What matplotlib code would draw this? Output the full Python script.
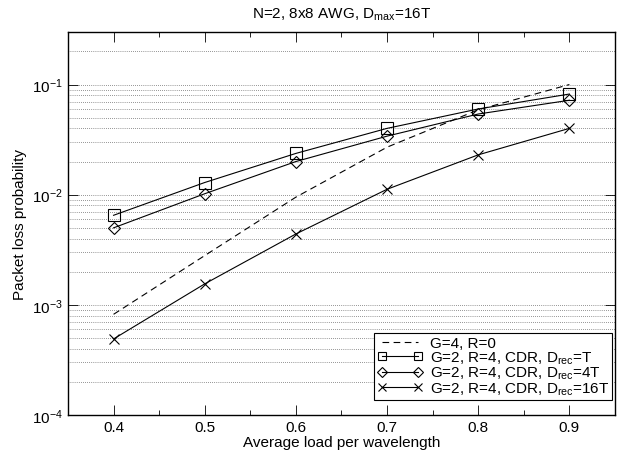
import matplotlib
matplotlib.use('Agg')
import matplotlib.pyplot as plt
from matplotlib.ticker import LogLocator, MultipleLocator, NullFormatter

plt.rcParams['font.family'] = ['Liberation Sans', 'DejaVu Sans']
plt.rcParams['mathtext.fontset'] = 'custom'
plt.rcParams['mathtext.rm'] = 'Liberation Sans'
plt.rcParams['mathtext.it'] = 'Liberation Sans'

carga = [0.4, 0.5, 0.6, 0.7, 0.8, 0.9]

g4_r0 = [8.2e-4, 2.8e-3, 9.5e-3, 2.7e-2, 5.9e-2, 1.0e-1]
drec_t = [6.5e-3, 1.29e-2, 2.37e-2, 4.0e-2, 6.0e-2, 8.2e-2]
drec_4t = [5.0e-3, 1.02e-2, 2.0e-2, 3.4e-2, 5.4e-2, 7.2e-2]
drec_16t = [4.9e-4, 1.55e-3, 4.4e-3, 1.12e-2, 2.3e-2, 4.0e-2]

etiquetas = ['G=4, R=0',
             'G=2, R=4, CDR, D$_{\\mathrm{rec}}$=T',
             'G=2, R=4, CDR, D$_{\\mathrm{rec}}$=4T',
             'G=2, R=4, CDR, D$_{\\mathrm{rec}}$=16T']

fig = plt.figure(figsize=(6.26, 4.60), dpi=100)
ax = fig.add_axes([0.1086, 0.0957, 0.8738, 0.8326])

ax.plot(carga, g4_r0, color='black', linestyle=(0, (6, 4)), linewidth=0.8, label=etiquetas[0])
ax.plot(carga, drec_t, color='black', marker='s', markersize=8, markerfacecolor='none',
        markeredgewidth=0.8, linewidth=0.8, label=etiquetas[1])
ax.plot(carga, drec_4t, color='black', marker='D', markersize=6.5, markerfacecolor='none',
        markeredgewidth=0.8, linewidth=0.8, label=etiquetas[2])
ax.plot(carga, drec_16t, color='black', marker='x', markersize=7,
        markeredgewidth=0.8, linewidth=0.8, label=etiquetas[3])

ax.set_yscale('log')
ax.set_ylim(1e-4, 0.3)
ax.set_xlim(0.35, 0.95)
ax.xaxis.set_major_locator(MultipleLocator(0.1))
ax.xaxis.set_minor_locator(MultipleLocator(0.05))
ax.yaxis.set_major_locator(LogLocator(base=10, numticks=10))
ax.yaxis.set_minor_locator(LogLocator(base=10, subs=range(2, 10), numticks=10))
ax.yaxis.set_minor_formatter(NullFormatter())

ax.tick_params(which='both', direction='in', top=True, right=True, labelsize=11)
ax.tick_params(which='major', length=7, width=0.6)
ax.xaxis.set_tick_params(which='minor', length=3.5, width=0.6)
ax.yaxis.set_tick_params(which='minor', length=0)

ax.grid(True, axis='y', which='both', linestyle=(0, (1, 2)), color='#333333', linewidth=0.5)
for s in ax.spines.values():
    s.set_linewidth(1.0)

ax.set_xlabel('Average load per wavelength', fontsize=11, labelpad=1)
ax.set_ylabel('Packet loss probability', fontsize=11)
ax.set_title('N=2, 8x8 AWG, D$_{\\mathrm{max}}$=16T', fontsize=11, pad=10)

leg = ax.legend(loc='lower right', bbox_to_anchor=(0.995, 0.039), fontsize=11, fancybox=False,
                edgecolor='black', framealpha=1, borderpad=0.2, labelspacing=-0.05,
                handlelength=3.0, handletextpad=0.45, borderaxespad=0.0, numpoints=2,
                markerscale=0.8)
leg.get_frame().set_linewidth(0.8)

fig.savefig('out.png', dpi=100)
